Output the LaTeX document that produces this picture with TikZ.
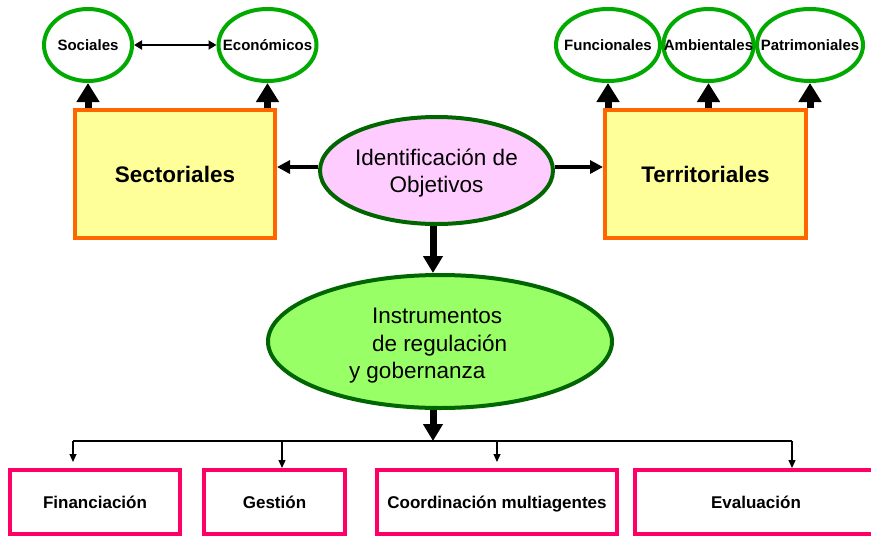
\documentclass[tikz,border=0pt]{standalone}
\usepackage{fontspec}
\setmainfont{Liberation Sans}
\usetikzlibrary{shapes.geometric,arrows.meta}
\definecolor{ellgreen}{RGB}{0,170,0}
\definecolor{darkgr}{RGB}{0,102,0}
\definecolor{boxorange}{RGB}{255,102,0}
\definecolor{boxyellow}{RGB}{255,255,153}
\definecolor{pinkfill}{RGB}{255,204,255}
\definecolor{lgreen}{RGB}{153,255,102}
\definecolor{magred}{RGB}{255,0,102}
\newcommand\zw[1]{\makebox[0pt]{#1}}
\begin{document}
\begin{tikzpicture}[x=1pt,y=-1pt,
  smallell/.style={ellipse,draw=ellgreen,line width=4pt,fill=white,inner sep=0pt,minimum height=72pt,font=\bfseries\fontsize{15}{18}\selectfont},
  bigbox/.style={rectangle,draw=boxorange,line width=4pt,fill=boxyellow,inner sep=0pt,minimum height=128pt,font=\bfseries\fontsize{22.5}{27}\selectfont},
  bigell/.style={ellipse,draw=darkgr,line width=4pt,inner sep=0pt,font=\fontsize{22.5}{27.5}\selectfont},
  lowbox/.style={rectangle,draw=magred,line width=4pt,fill=white,inner sep=0pt,minimum height=64pt,text height=13pt,text depth=1pt,font=\bfseries\fontsize{17}{20}\selectfont},
  uparr/.style={line width=7pt,-{Triangle[width=22pt,length=19pt]}},
  downarr/.style={line width=7pt,-{Triangle[width=19pt,length=17pt]}},
  sidearr/.style={line width=4pt,-{Triangle[width=13pt,length=13pt]}},
  dblarr/.style={line width=2.5pt,{Triangle[width=9pt,length=8pt]}-{Triangle[width=9pt,length=8pt]}},
  thinarr/.style={line width=1.2pt,-{Triangle[width=7pt,length=8pt]}}
]
\clip (0,0) rectangle (871,536);
\fill[white] (0,0) rectangle (871,536);

% top ellipses
\node[smallell,minimum width=88pt] (soc) at (88,45) {\zw{Sociales}};
\node[smallell,minimum width=98pt] (eco) at (267.5,45) {\zw{Económicos}};
\node[smallell,minimum width=104pt] (fun) at (608,45) {\zw{Funcionales}};
\node[smallell,minimum width=90pt] (amb) at (708.5,45) {\zw{Ambientales}};
\node[smallell,minimum width=106pt] (pat) at (810,45) {\zw{Patrimoniales}};

% boxes
\node[bigbox,minimum width=200pt] (sect) at (175,174) {Sectoriales};
\node[bigbox,minimum width=201pt] (terr) at (705.5,174) {Territoriales};

% central ellipses
\node[bigell,fill=pinkfill,minimum width=233pt,minimum height=107pt] (ident) at (436.5,170.5)
  {\zw{\raisebox{-3pt}[\height][\depth]{\begin{tabular}{@{}c@{}}Identificación de\\Objetivos\end{tabular}}}};
\node[bigell,fill=lgreen,minimum width=344pt,minimum height=133pt] (ins) at (440,341.5)
  {\makebox[0pt][l]{\hspace{-91pt}\raisebox{-4pt}[\height][\depth]{\begin{tabular}{@{}l@{}}\hspace*{23pt}Instrumentos\\\hspace*{23pt}de regulación\\y gobernanza\end{tabular}}}};

% bottom boxes
\node[lowbox,minimum width=170pt] (fin) at (95,502) {Financiación};
\node[lowbox,minimum width=141pt] (ges) at (274.5,502) {Gestión};
\node[lowbox,minimum width=240pt] (coo) at (497,502) {Coordinación multiagentes};
\node[lowbox,minimum width=242pt] (eva) at (756,502) {Evaluación};

% coordinates
\coordinate (jx) at (433,441);
\coordinate (bl) at (73,441);
\coordinate (br) at (792,441);
\coordinate (bg) at (282,441);
\coordinate (bc) at (497,441);
\coordinate (iw) at ([yshift=3.5pt]ident.west);
\coordinate (ie) at ([yshift=3.5pt]ident.east);

% arrows
\draw[dblarr] (soc.east) -- (eco.west);
\draw[uparr] (soc |- sect.north) -- (soc.south);
\draw[uparr] (eco |- sect.north) -- (eco.south);
\draw[uparr] (fun |- terr.north) -- (fun.south);
\draw[uparr] (amb |- terr.north) -- (amb.south);
\draw[uparr] (pat |- terr.north) -- (pat.south);

\draw[sidearr] (iw) -- (sect.east |- iw);
\draw[sidearr] (ie) -- (terr.west |- ie);

\draw[downarr] (ident.south -| jx) -- (ins.north -| jx);
\draw[downarr] (ins.south -| jx) -- (jx);

\draw[line width=1.2pt] (bl) -- (br);
\draw[thinarr,shorten >=6pt] (bl) -- (bl |- fin.north);
\draw[thinarr] (bg) -- (bg |- ges.north);
\draw[thinarr,shorten >=6pt] (bc) -- (bc |- coo.north);
\draw[thinarr] (br) -- (br |- eva.north);
\end{tikzpicture}
\end{document}
